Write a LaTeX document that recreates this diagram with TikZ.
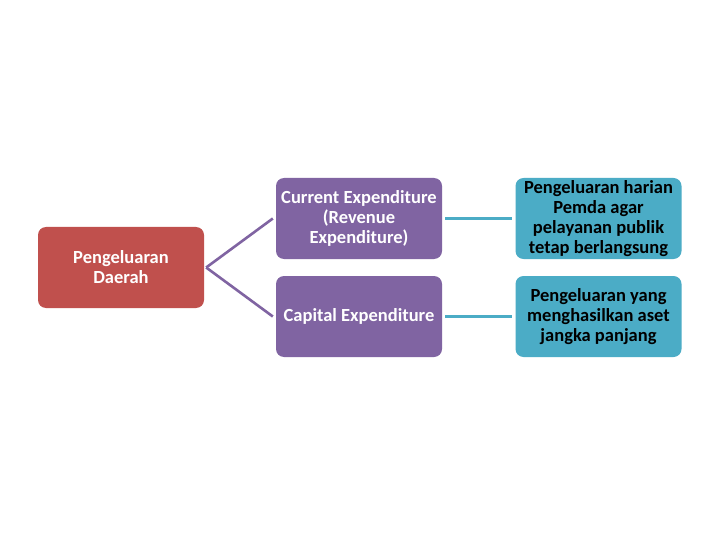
\documentclass[tikz,border=0pt]{standalone}
\usepackage{fontspec}
\setmainfont{Carlito}
\definecolor{redbox}{HTML}{C0504D}
\definecolor{purplebox}{HTML}{8064A2}
\definecolor{tealbox}{HTML}{4BACC6}
\definecolor{purpleline}{HTML}{8064A2}
\definecolor{tealline}{HTML}{4BACC6}
\begin{document}
\begin{tikzpicture}[x=1pt,y=-1pt,
  box/.style={rounded corners=8pt, minimum width=166pt, minimum height=81pt, align=center,
    inner sep=2pt, font=\fontsize{18.5}{20}\selectfont\bfseries},
  rootbox/.style={box, fill=redbox, text=white},
  midbox/.style={box, fill=purplebox, text=white},
  leafbox/.style={box, fill=tealbox, text=black},
  purplecon/.style={draw=purpleline, line width=2.6pt},
  tealcon/.style={draw=tealline, line width=2.6pt}]
\useasboundingbox (0,0) rectangle (720,540);
\fill[white] (0,0) rectangle (720,540);
\node[rootbox] (root) at (121,267.5) {Pengeluaran\\Daerah};
\node[midbox] (cur) at (359,218.5) {Current Expenditure\\(Revenue\\Expenditure)};
\node[midbox] (cap) at (359,316.5) {Capital Expenditure};
\node[leafbox] (leafa) at (598.5,218.5) {Pengeluaran harian\\Pemda agar\\pelayanan publik\\tetap berlangsung};
\node[leafbox] (leafb) at (598.5,316.5) {Pengeluaran yang\\menghasilkan aset\\jangka panjang};
\draw[purplecon] ([xshift=2pt]root.east) -- ([xshift=-3pt]cur.west);
\draw[purplecon] ([xshift=2pt]root.east) -- ([xshift=-3pt]cap.west);
\draw[tealcon] ([xshift=3pt]cur.east) -- ([xshift=-3pt]leafa.west);
\draw[tealcon] ([xshift=3pt]cap.east) -- ([xshift=-3pt]leafb.west);
\end{tikzpicture}
\end{document}
